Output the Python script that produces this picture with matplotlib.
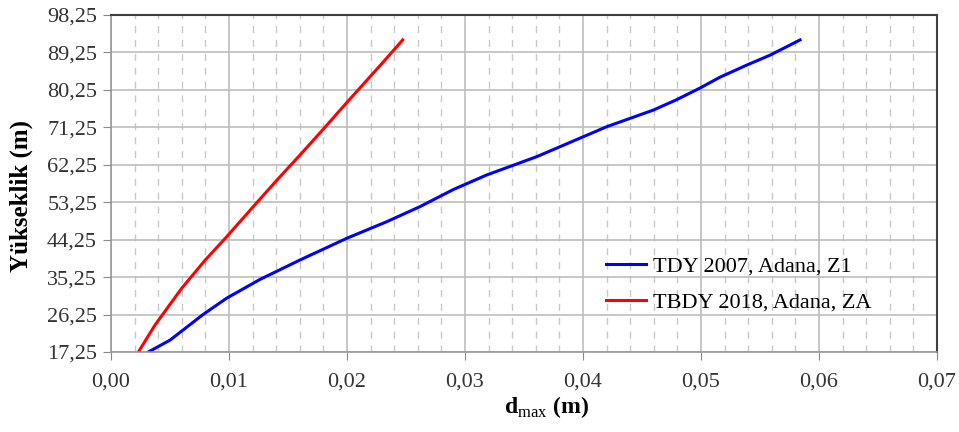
import matplotlib.pyplot as plt
from matplotlib.ticker import MultipleLocator, FuncFormatter

plt.rcParams['font.family'] = ['Liberation Serif', 'DejaVu Serif']
plt.rcParams['mathtext.fontset'] = 'custom'
plt.rcParams['mathtext.rm'] = 'Liberation Serif'
plt.rcParams['mathtext.bf'] = 'Liberation Serif:bold'

# TDY 2007, Adana, Z1
tdy_d = [0.00316, 0.005, 0.0065, 0.00782, 0.00981, 0.01263, 0.01602, 0.01998, 0.02337,
         0.02619, 0.02901, 0.03184, 0.03608, 0.04003, 0.04201, 0.04596, 0.04794,
         0.04992, 0.05161, 0.05387, 0.05585, 0.05839]
tdy_h = [17.25, 20.1, 23.4, 26.3, 30.2, 34.7, 39.37, 44.58, 48.57,
         52.2, 56.3, 59.8, 64.2, 69.0, 71.4, 75.4, 77.9,
         80.7, 83.3, 86.2, 88.6, 92.25]

# TBDY 2018, Adana, ZA
tbdy_d = [0.00232, 0.00373, 0.00599, 0.00797, 0.00981, 0.01206, 0.01404,
          0.01602, 0.01799, 0.01998, 0.02195, 0.02337, 0.02472]
tbdy_h = [17.25, 23.74, 32.56, 39.3, 44.97, 52.2, 58.5,
          64.6, 70.8, 77.2, 83.4, 87.9, 92.25]

fig = plt.figure(figsize=(9.59, 4.32), dpi=100)
ax = fig.add_axes([111 / 959, 1 - 352 / 432, 826 / 959, 337 / 432])

ax.plot(tdy_d, tdy_h, color='#0000ff', lw=2.2, label='TDY 2007, Adana, Z1')
ax.plot(tbdy_d, tbdy_h, color='#ff0000', lw=2.2, label='TBDY 2018, Adana, ZA')

ax.set_xlim(0, 0.07)
ax.set_ylim(17.25, 98.25)
ax.xaxis.set_major_locator(MultipleLocator(0.01))
ax.xaxis.set_minor_locator(MultipleLocator(0.002))
ax.set_yticks([17.25 + 9 * i for i in range(10)])
comma = FuncFormatter(lambda v, p: f'{v:.2f}'.replace('.', ','))
ax.xaxis.set_major_formatter(comma)
ax.yaxis.set_major_formatter(comma)

ax.grid(which='major', color='#bdbdbd', lw=1.2)
ax.grid(which='minor', axis='x', color='#c8c8c8', lw=1.0, ls=(0, (5, 5)))
ax.set_axisbelow(True)

ax.tick_params(which='major', direction='out', length=6, color='#888888',
               labelsize=16, labelcolor='#333333')
ax.tick_params(which='minor', length=0)
ax.tick_params(axis='x', pad=9)
ax.tick_params(axis='y', pad=4)
for s in ['left', 'bottom']:
    ax.spines[s].set_color('#999999')
    ax.spines[s].set_linewidth(1.2)
for s in ['top', 'right']:
    ax.spines[s].set_color('#404040')
    ax.spines[s].set_linewidth(1.5)

ax.set_ylabel('Yükseklik (m)', fontsize=18, fontweight='bold')
ax.yaxis.set_label_coords(-0.094, 0.463)
ax.set_xlabel(r'd$_{\mathrm{max}}$ (m)', fontsize=17, fontweight='bold')
ax.xaxis.set_label_coords(0.527, -0.125)

ax.legend(loc='upper left', bbox_to_anchor=(0.575, 0.345), frameon=False,
          fontsize=16, handlelength=1.8, handletextpad=0.3, labelspacing=0.72)

fig.savefig('out.png', dpi=100)
